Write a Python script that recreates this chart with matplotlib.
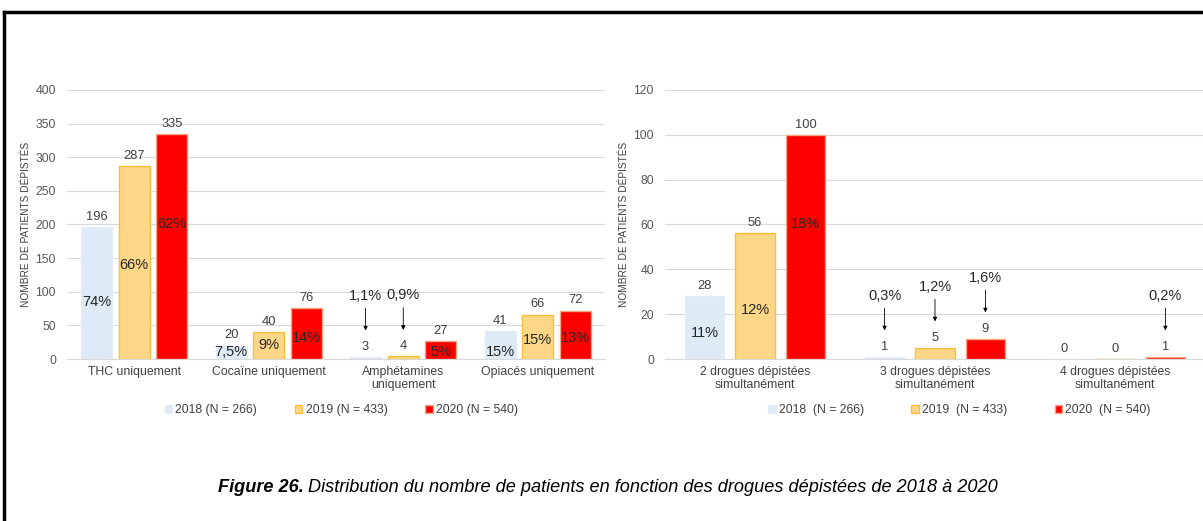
import matplotlib
matplotlib.use('Agg')
import matplotlib.pyplot as plt
from matplotlib.lines import Line2D
import numpy as np

plt.rcParams['font.family'] = ['Liberation Sans', 'DejaVu Sans']

years = ['2018 (N = 266)', '2019 (N = 433)', '2020 (N = 540)']
years_right = ['2018  (N = 266)', '2019  (N = 433)', '2020  (N = 540)']

cats_left = ['THC uniquement', 'Cocaïne uniquement', 'Amphétamines\nuniquement', 'Opiacés uniquement']
vals_left = [[196, 20, 3, 41],
             [287, 40, 4, 66],
             [335, 76, 27, 72]]
pct_left = [['74%', '7,5%', '1,1%', '15%'],
            ['66%', '9%', '0,9%', '15%'],
            ['62%', '14%', '5%', '13%']]
# y position of the percentage label inside the bar (None = shown above with an arrow)
pct_y_left = [[85, 10, None, 10],
              [140, 21, None, 28],
              [200, 31, 10, 31]]

cats_right = ['2 drogues dépistées\nsimultanément', '3 drogues dépistées\nsimultanément',
              '4 drogues dépistées\nsimultanément']
vals_right = [[28, 1, 0],
              [56, 5, 0],
              [100, 9, 1]]
pct_right = [['11%', '0,3%', ''],
             ['12%', '1,2%', ''],
             ['18%', '1,6%', '0,2%']]
pct_y_right = [[11.5, None, None],
               [22, None, None],
               [60, None, None]]

colors = ['#DEEAF6', '#FDD787', '#FF0000']
edges = ['#E4EDF7', '#F7BF3A', '#F4A582']
txt = '#404040'


def draw(ax, cats, vals, pcts, pct_y, ymax, step, width, labels, legend_x, colsp):
    x = np.arange(len(cats))
    offs = [-0.28, 0, 0.28]
    for i in range(3):
        bars = ax.bar(x + offs[i], vals[i], width, color=colors[i], edgecolor=edges[i],
                      linewidth=1, label=labels[i], zorder=3)
        for j, b in enumerate(bars):
            h = vals[i][j]
            cx = b.get_x() + b.get_width() / 2
            ax.annotate(str(h), (cx, h), xytext=(0, 3), textcoords='offset points',
                        ha='center', va='bottom', fontsize=9.3, color=txt)
            p = pcts[i][j]
            if not p:
                continue
            if pct_y[i][j] is not None:
                ax.text(cx, pct_y[i][j], p, ha='center', va='center', fontsize=10.5,
                        color='#262626', zorder=4)
            else:
                # percentage above, arrow pointing down to the value label
                ax.annotate('', xy=(cx, h), xytext=(0, 35), textcoords='offset points',
                            arrowprops=dict(arrowstyle='-|>', color='black', lw=0.6,
                                            mutation_scale=6, shrinkA=0, shrinkB=19))
                ax.annotate(p, (cx, h), xytext=(0, 44), textcoords='offset points',
                            ha='center', va='center', fontsize=10.5, color='#262626')
    ax.set_xlim(-0.5, len(cats) - 0.5)
    ax.set_ylim(0, ymax)
    ax.set_yticks(np.arange(0, ymax + 1, step))
    ax.set_xticks(x)
    ax.set_xticklabels(cats, fontsize=8.8, color=txt, linespacing=1.1)
    ax.tick_params(axis='y', labelsize=8.8, labelcolor='#595959', length=0, pad=8)
    ax.tick_params(axis='x', length=0, pad=5)
    ax.grid(axis='y', color='#D9D9D9', lw=0.8, zorder=0)
    for s in ['top', 'right', 'left']:
        ax.spines[s].set_visible(False)
    ax.spines['bottom'].set_color('#D9D9D9')
    ax.set_ylabel('NOMBRE DE PATIENTS DÉPISTÉS', fontsize=7.3, color=txt, labelpad=3)
    ax.legend(loc='center', bbox_to_anchor=(legend_x, -0.19), ncol=3, frameon=False,
              fontsize=8.8, handlelength=0.6, handleheight=0.6, handletextpad=0.25,
              columnspacing=colsp, labelcolor=txt)


fig = plt.figure(figsize=(12.03, 5.21), dpi=100)
ax1 = fig.add_axes([67 / 1203, 162 / 521, 538 / 1203, 269 / 521])
ax2 = fig.add_axes([665 / 1203, 162 / 521, 540 / 1203, 269 / 521])

draw(ax1, cats_left, vals_left, pct_left, pct_y_left, 400, 50, 0.23, years, 0.51, 3.1)
draw(ax2, cats_right, vals_right, pct_right, pct_y_right, 120, 20, 0.22, years_right, 0.545, 3.9)

# page frame
fig.add_artist(Line2D([4 / 1203, 1], [509 / 521, 509 / 521], color='black', lw=2.5))
fig.add_artist(Line2D([4 / 1203, 4 / 1203], [0, 509 / 521], color='black', lw=2.5))

# caption
fig.canvas.draw()
r = fig.canvas.get_renderer()
t1 = fig.text(218 / 1203, 1 - 487 / 521, 'Figure 26.', fontsize=13.1, fontweight='bold',
              fontstyle='italic', va='center', ha='left', color='black')
bb = t1.get_window_extent(renderer=r)
fig.text((bb.x1 + 4) / 1203, 1 - 487 / 521,
         'Distribution du nombre de patients en fonction des drogues dépistées de 2018 à 2020',
         fontsize=13.1, fontstyle='italic', va='center', ha='left', color='black')

fig.savefig('out.png', dpi=100)
